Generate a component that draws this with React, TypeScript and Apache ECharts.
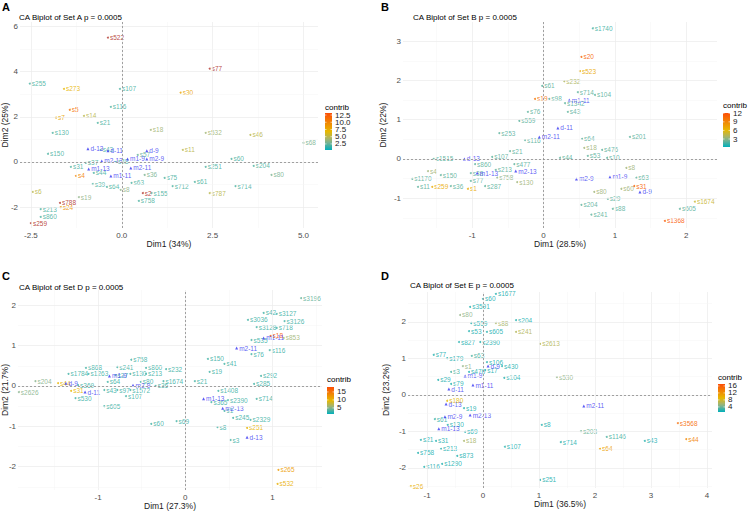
import React, { useEffect, useRef } from "react";
import * as echarts from "echarts";

type Row = [string, number, number, number];
type Col = [string, number, number];

// ---------- Panel A (Set A) ----------
const aRows: Row[] = [
  ["s522", -0.38, 5.51, 14], ["s255", -2.53, 3.47, 2], ["s273", -1.59, 3.24, 7], ["s107", -0.05, 3.24, 2],
  ["s30", 1.62, 3.07, 8], ["s77", 2.42, 4.13, 14], ["s5", -1.43, 2.31, 11], ["s7", -1.81, 1.96, 8],
  ["s14", -1.04, 2.04, 5], ["s116", -0.3, 2.44, 2], ["s21", -0.66, 1.73, 2], ["s130", -1.9, 1.29, 2],
  ["s18", 0.8, 1.42, 4], ["s532", 2.31, 1.29, 4], ["s46", 3.54, 1.2, 5], ["s68", 5.0, 0.84, 3],
  ["s11", 1.68, 0.53, 5], ["s150", -2.03, 0.36, 2], ["s43", -0.58, 0.53, 2], ["s57", 0.44, 0.31, 2.5],
  ["s31", -1.4, -0.22, 2], ["s37", -0.99, -0.04, 2], ["s48", -0.16, 0.0, 2], ["s44", -0.77, -0.49, 2],
  ["s4", -1.26, -0.62, 10], ["s36", 0.63, -0.58, 3], ["s75", 1.18, -0.71, 2], ["s712", 1.4, -1.07, 2],
  ["s39", -0.8, -0.98, 2], ["s64", -0.41, -1.11, 2], ["s63", 0.27, -0.93, 2], ["s8", -0.03, -1.24, 3.5],
  ["s6", -2.45, -1.33, 5], ["s19", -1.18, -1.56, 3.5], ["s2", 0.58, -1.38, 14], ["s155", 0.82, -1.38, 2],
  ["s758", 0.47, -1.73, 2], ["s24", -1.68, -2.0, 9], ["s788", -1.7, -1.82, 14], ["s213", -2.23, -2.09, 2],
  ["s860", -2.23, -2.44, 2], ["s259", -2.5, -2.71, 14], ["s61", 2.01, -0.89, 2], ["s60", 3.02, 0.13, 2],
  ["s251", 2.31, -0.22, 2], ["s204", 3.63, -0.18, 2], ["s80", 4.12, -0.58, 3], ["s714", 3.13, -1.07, 2],
  ["s787", 2.42, -1.38, 5],
];
const aCols: Col[] = [
  ["d-13", -0.93, 0.58], ["d-11", -0.38, 0.49], ["d-9", 0.69, 0.49], ["m2-13", -0.55, 0.04],
  ["m1-9", 0.16, 0.13], ["m2-9", 0.69, 0.13], ["m1-13", -0.91, -0.31], ["m1-11", -0.3, -0.62],
  ["m2-11", 0.25, -0.27],
];
const aTicksX = [-2.5, 0, 2.5, 5];
const aTicksY = [-2, 0, 2, 4, 6];
const aLegendTicks = [2.5, 5, 7.5, 10, 12.5];

// ---------- Panel B (Set B) ----------
const bRows: Row[] = [
  ["s1740", 0.69, 3.33, 1.5], ["s20", 0.53, 2.6, 11], ["s523", 0.51, 2.24, 7], ["s232", 0.29, 1.98, 4],
  ["s61", -0.02, 1.86, 2], ["s714", 0.48, 1.7, 2], ["s104", 0.72, 1.63, 2], ["s19", -0.12, 1.53, 10],
  ["s98", 0.08, 1.53, 2], ["s1342", 0.3, 1.42, 2], ["s43", 0.34, 1.2, 2], ["s76", -0.22, 1.2, 2],
  ["s559", -0.34, 0.97, 2], ["s253", -0.62, 0.66, 2], ["s116", -0.26, 0.48, 2], ["s64", 0.54, 0.51, 2],
  ["s201", 1.21, 0.56, 2], ["s21", -0.47, 0.2, 2], ["s18", 0.57, 0.28, 3.5], ["s476", 0.82, 0.23, 2],
  ["s107", -0.72, 0.05, 2], ["s1515", -1.54, 0.0, 2], ["s44", 0.23, 0.03, 2], ["s53", 0.62, 0.08, 2],
  ["s10", 0.89, 0.03, 2], ["s860", -0.96, -0.13, 2], ["s477", -0.41, -0.13, 2], ["s4", -1.62, -0.31, 3.5],
  ["s150", -1.44, -0.41, 2], ["s38", -1.02, -0.36, 2], ["s213", -0.67, -0.28, 2], ["s1170", -1.84, -0.51, 2],
  ["s758", -0.65, -0.48, 3], ["s130", -0.37, -0.59, 3.5], ["s77", -1.02, -0.56, 2], ["s287", -0.82, -0.69, 2],
  ["s36", -1.3, -0.69, 2], ["s11", -1.76, -0.71, 2], ["s259", -1.56, -0.71, 7], ["s1", -1.06, -0.76, 7],
  ["s8", 1.16, -0.23, 3.5], ["s63", 1.3, -0.48, 2], ["s31", 1.27, -0.69, 11], ["s60", 1.09, -0.76, 3.5],
  ["s80", 0.71, -0.84, 3.5], ["s29", 0.9, -1.02, 2], ["s204", 0.53, -1.17, 2], ["s88", 0.97, -1.27, 2],
  ["s241", 0.67, -1.42, 2], ["s605", 1.91, -1.27, 2], ["s1674", 2.12, -1.09, 5], ["s1368", 1.7, -1.58, 11.5],
];
const bCols: Col[] = [
  ["m1-11", 0.36, 1.5], ["d-11", 0.2, 0.79], ["m2-11", -0.06, 0.56], ["d-13", -1.11, 0.0],
  ["m1-13", -0.93, -0.36], ["m2-13", -0.39, -0.31], ["m2-9", 0.46, -0.51], ["m1-9", 0.93, -0.46],
  ["d-9", 1.35, -0.84],
];
const bTicksX = [-1, 0, 1, 2];
const bTicksY = [-1, 0, 1, 2, 3];
const bLegendTicks = [3, 6, 9, 12];

// ---------- Panel C (Set D) ----------
const cRows: Row[] = [
  ["s3196", 1.33, 2.18, 4], ["s42", 0.9, 1.81, 3], ["s3127", 1.05, 1.79, 3], ["s3036", 0.72, 1.64, 3],
  ["s3126", 1.14, 1.61, 3], ["s3128", 0.82, 1.46, 3], ["s718", 1.05, 1.44, 3], ["s535", 0.76, 1.14, 3],
  ["s18", 0.98, 1.24, 17], ["s853", 1.13, 1.19, 6], ["s76", 0.76, 0.79, 3], ["s116", 0.97, 0.89, 3],
  ["s150", 0.26, 0.67, 3], ["s41", 0.45, 0.55, 3], ["s19", 0.28, 0.35, 3], ["s21", 0.11, 0.12, 3],
  ["s292", 0.87, 0.25, 3], ["s285", 0.79, 0.05, 3], ["s1408", 0.38, -0.12, 3], ["s2390", 0.49, -0.35, 3],
  ["s714", 0.82, -0.32, 3], ["s365", 0.3, -0.4, 3], ["s1", 0.45, -0.62, 3], ["s245", 0.55, -0.79, 3],
  ["s2329", 0.75, -0.84, 3], ["s251", 0.71, -1.04, 10], ["s8", 0.37, -1.02, 3], ["s3", 0.52, -1.34, 3],
  ["s265", 1.07, -2.08, 12], ["s532", 1.06, -2.43, 10.5], ["s60", -0.39, -0.94, 3], ["s69", -0.1, -0.87, 3],
  ["s758", -0.62, 0.65, 3], ["s868", -1.14, 0.45, 3], ["s241", -0.78, 0.47, 3], ["s860", -0.45, 0.45, 3],
  ["s232", -0.22, 0.42, 3], ["s1784", -1.34, 0.3, 3], ["s1263", -1.11, 0.3, 3], ["s37", -0.8, 0.27, 3],
  ["s130", -0.63, 0.3, 3], ["s213", -0.45, 0.3, 3], ["s1674", -0.25, 0.12, 3], ["s204", -1.72, 0.12, 5],
  ["s44", -1.46, 0.07, 10], ["s369", -1.23, 0.02, 3], ["s64", -0.89, 0.1, 3], ["s80", -0.51, 0.1, 3],
  ["s36", -0.34, 0.0, 3], ["s2626", -1.91, -0.15, 5], ["s31", -1.31, -0.12, 10], ["s43", -0.93, -0.1, 3],
  ["s97", -0.78, -0.1, 3], ["s1572", -0.63, -0.1, 3], ["s107", -0.68, -0.25, 3], ["s530", -1.26, -0.3, 3],
  ["s605", -0.93, -0.5, 3],
];
const cCols: Col[] = [
  ["m1-11", 0.9, 1.19], ["m2-11", 0.59, 0.94], ["m1-13", 0.21, -0.32], ["m2-13", 0.43, -0.55],
  ["d-13", 0.71, -1.27], ["m1-9", -0.87, 0.25], ["d-9", -1.37, 0.07], ["m2-9", -0.6, 0.02],
  ["d-11", -1.15, -0.15],
];
const cTicksX = [-1, 0, 1];
const cTicksY = [-2, -1, 0, 1, 2];
const cLegendTicks = [5, 10, 15];

// ---------- Panel D (Set E) ----------
const dRows: Row[] = [
  ["s1677", 0.23, 2.77, 2], ["s60", 0.0, 2.63, 2], ["s3591", -0.23, 2.41, 2], ["s80", -0.41, 2.19, 5],
  ["s559", -0.21, 1.97, 2], ["s88", 0.23, 1.97, 6], ["s204", 0.59, 2.05, 2], ["s53", -0.25, 1.75, 2],
  ["s605", 0.07, 1.73, 2], ["s241", 0.59, 1.73, 6.5], ["s827", -0.43, 1.45, 2], ["s2390", -0.05, 1.45, 2],
  ["s2613", 1.02, 1.4, 6.5], ["s63", -0.2, 1.07, 3], ["s77", -0.88, 1.1, 2], ["s179", -0.64, 1.01, 2],
  ["s1", -0.36, 0.79, 5], ["s106", 0.07, 0.9, 2], ["s430", 0.34, 0.79, 2], ["s17", 0.04, 0.68, 2],
  ["s3", -0.57, 0.63, 3], ["s476", -0.25, 0.63, 2], ["s104", 0.38, 0.47, 2], ["s29", -0.8, 0.41, 2],
  ["s79", -0.57, 0.3, 2], ["s180", -0.64, -0.16, 9], ["s19", -0.34, -0.36, 2], ["s61", -0.86, -0.66, 2.5],
  ["s130", -0.63, -0.82, 2], ["s69", -0.32, -1.01, 2], ["s21", -1.11, -1.23, 2], ["s31", -0.84, -1.26, 2],
  ["s18", -0.34, -1.26, 6], ["s213", -0.75, -1.48, 2], ["s758", -1.16, -1.59, 2], ["s873", -0.46, -1.67, 2],
  ["s107", 0.39, -1.42, 2], ["s116", -1.05, -1.97, 2], ["s1290", -0.73, -1.89, 2], ["s26", -1.29, -2.5, 10],
  ["s251", 1.02, -2.33, 2], ["s8", 1.05, -0.82, 2], ["s530", 1.32, 0.49, 5], ["s203", 1.75, -0.99, 4],
  ["s1146", 2.21, -1.15, 3], ["s714", 1.39, -1.29, 2], ["s43", 2.89, -1.26, 2], ["s64", 2.09, -1.48, 11],
  ["s3568", 3.48, -0.77, 15], ["s44", 3.63, -1.21, 13],
];
const dCols: Col[] = [
  ["d-9", 0.09, 0.79], ["m1-9", -0.32, 0.52], ["m1-11", -0.18, 0.27], ["d-11", -0.61, 0.16],
  ["d-13", -0.66, -0.25], ["m2-9", -0.68, -0.6], ["m2-13", -0.23, -0.55], ["m1-13", -0.79, -0.93],
  ["m2-11", 1.8, -0.3],
];
const dTicksX = [-1, 0, 1, 2, 3, 4];
const dTicksY = [-2, -1, 0, 1, 2];
const dLegendTicks = [4, 8, 12, 16];

// ---------- colours ----------
const STOPS: [number, number[]][] = [
  [0, [0, 175, 187]],
  [0.25, [150, 180, 135]],
  [0.5, [231, 184, 0]],
  [1, [252, 78, 7]],
];
const OVER = "#b2352d";
const COL_COLOR = "#3434f2";

function colorAt(t: number): string {
  const u = Math.max(0, Math.min(1, t));
  for (let i = 1; i < STOPS.length; i++) {
    if (u <= STOPS[i][0]) {
      const [t0, c0] = STOPS[i - 1];
      const [t1, c1] = STOPS[i];
      const f = (u - t0) / (t1 - t0);
      const c = c0.map((v, k) => Math.round(v + (c1[k] - v) * f));
      return `rgb(${c[0]},${c[1]},${c[2]})`;
    }
  }
  const c = STOPS[STOPS.length - 1][1];
  return `rgb(${c[0]},${c[1]},${c[2]})`;
}
function contribColor(c: number, lo: number, hi: number): string {
  if (c > hi) return OVER;
  return colorAt((c - lo) / (hi - lo));
}

interface Panel {
  letter: string; letterPos: [number, number];
  title: string; titlePos: [number, number];
  xName: string; yName: string; yNameGap: number;
  rows: Row[]; cols: Col[];
  ticksX: number[]; ticksY: number[]; xDec: number;
  xMin: number; xMax: number; yMin: number; yMax: number;
  grid: { left: number; top: number; width: number; height: number };
  lo: number; hi: number; legendTicks: number[]; legendDec: number;
  leg: { x: number; top: number; bottom: number; titleY: number };
}

const panels: Panel[] = [
  {
    letter: "A", letterPos: [2, 7], title: "CA Biplot of Set A p = 0.0005", titlePos: [19, 17],
    xName: "Dim1 (34%)", yName: "Dim2 (25%)", yNameGap: 10.5, rows: aRows, cols: aCols,
    ticksX: aTicksX, ticksY: aTicksY, xDec: 1, xMin: -2.8, xMax: 5.4, yMin: -2.93, yMax: 6.2,
    grid: { left: 20, top: 22, width: 298, height: 206 },
    lo: 0.4, hi: 13.2, legendTicks: aLegendTicks, legendDec: 1, leg: { x: 325, top: 113, bottom: 150, titleY: 107 },
  },
  {
    letter: "B", letterPos: [381, 7], title: "CA Biplot of Set B p = 0.0005", titlePos: [413, 17],
    xName: "Dim1 (28.5%)", yName: "Dim2 (22%)", yNameGap: 15.5, rows: bRows, cols: bCols,
    ticksX: bTicksX, ticksY: bTicksY, xDec: 0, xMin: -1.97, xMax: 2.43, yMin: -1.76, yMax: 3.49,
    grid: { left: 403, top: 22, width: 314, height: 206 },
    lo: 0.2, hi: 12.1, legendTicks: bLegendTicks, legendDec: 0, leg: { x: 723, top: 113, bottom: 147, titleY: 105 },
  },
  {
    letter: "C", letterPos: [2, 276], title: "CA Biplot of Set D p = 0.0005", titlePos: [19, 287],
    xName: "Dim1 (27.3%)", yName: "Dim2 (21.7%)", yNameGap: 8.5, rows: cRows, cols: cCols,
    ticksX: cTicksX, ticksY: cTicksY, xDec: 0, xMin: -1.92, xMax: 1.57, yMin: -2.58, yMax: 2.38,
    grid: { left: 18, top: 290, width: 304, height: 200 },
    lo: 1.2, hi: 18.1, legendTicks: cLegendTicks, legendDec: 0, leg: { x: 327, top: 387, bottom: 414, titleY: 379 },
  },
  {
    letter: "D", letterPos: [381, 276], title: "CA Biplot of Set E p = 0.0005", titlePos: [410, 285],
    xName: "Dim1 (36.5%)", yName: "Dim2 (23.2%)", yNameGap: 17.5, rows: dRows, cols: dCols,
    ticksX: dTicksX, ticksY: dTicksY, xDec: 0, xMin: -1.34, xMax: 4.09, yMin: -2.55, yMax: 2.82,
    grid: { left: 408, top: 292, width: 304, height: 196 },
    lo: 1.1, hi: 17.1, legendTicks: dLegendTicks, legendDec: 0, leg: { x: 718, top: 384, bottom: 412, titleY: 377 },
  },
];

function gridValues(ticks: number[], min: number, max: number): number[] {
  const step = ticks[1] - ticks[0];
  const vals: number[] = [];
  vals.push(ticks[0] - step / 2);
  ticks.forEach((t, i) => {
    vals.push(t);
    vals.push(i < ticks.length - 1 ? (t + ticks[i + 1]) / 2 : t + step / 2);
  });
  return vals.filter((v) => v > min && v < max);
}

const FONT = "Liberation Sans, Arial, Helvetica, sans-serif";

function buildOption() {
  const grids: any[] = [];
  const xAxes: any[] = [];
  const yAxes: any[] = [];
  const series: any[] = [];
  const graphics: any[] = [];

  panels.forEach((p, i) => {
    grids.push({ ...p.grid, containLabel: false, outerBoundsMode: "none" });
    xAxes.push({
      gridIndex: i, type: "value", min: p.xMin, max: p.xMax,
      axisLine: { show: false }, axisTick: { show: false }, splitLine: { show: false },
      axisLabel: {
        customValues: p.ticksX, fontSize: 8, color: "#4d4d4d", margin: 3, fontFamily: FONT,
        formatter: (v: number) => v.toFixed(p.xDec),
      },
      name: p.xName, nameLocation: "middle", nameGap: 11, nameMoveOverlap: false,
      nameTextStyle: { fontSize: 8.5, color: "#1a1a1a", fontFamily: FONT },
    });
    yAxes.push({
      gridIndex: i, type: "value", min: p.yMin, max: p.yMax,
      axisLine: { show: false }, axisTick: { show: false }, splitLine: { show: false },
      axisLabel: {
        customValues: p.ticksY, fontSize: 8, color: "#4d4d4d", margin: 2, fontFamily: FONT,
        formatter: (v: number) => v.toFixed(0),
      },
      name: p.yName, nameLocation: "middle", nameGap: p.yNameGap, nameMoveOverlap: false,
      nameTextStyle: { fontSize: 8.5, color: "#1a1a1a", fontFamily: FONT },
    });

    const gx = gridValues(p.ticksX, p.xMin, p.xMax);
    const gy = gridValues(p.ticksY, p.yMin, p.yMax);
    const gridStyle = (major: boolean) => ({ color: major ? "#ebebeb" : "#f4f4f4", width: major ? 0.7 : 0.5, type: "solid" });
    const mlData: any[] = [
      ...gx.map((v) => ({ xAxis: v, lineStyle: gridStyle(p.ticksX.includes(v)) })),
      ...gy.map((v) => ({ yAxis: v, lineStyle: gridStyle(p.ticksY.includes(v)) })),
      { xAxis: 0, lineStyle: { color: "#8c8c8c", width: 0.8, type: [2, 2] } },
      { yAxis: 0, lineStyle: { color: "#8c8c8c", width: 0.8, type: [2, 2] } },
    ];
    series.push({
      type: "line", xAxisIndex: i, yAxisIndex: i, data: [[p.xMin, p.yMin]], symbol: "none",
      lineStyle: { opacity: 0 }, silent: true, z: 1,
      markLine: { silent: true, symbol: ["none", "none"], label: { show: false }, animation: false, data: mlData },
    });

    series.push({
      type: "scatter", xAxisIndex: i, yAxisIndex: i, z: 3, symbolSize: 2, silent: true,
      emphasis: { disabled: true },
      data: p.rows.map(([name, x, y, c]) => {
        const col = contribColor(c, p.lo, p.hi);
        return { name, value: [x, y], itemStyle: { color: col }, label: { color: col } };
      }),
      label: {
        show: true, position: "right", distance: 1, formatter: "{b}", fontSize: 6.5, fontFamily: FONT, opacity: 0.9,
      },
    });
    series.push({
      type: "scatter", xAxisIndex: i, yAxisIndex: i, z: 4, symbol: "triangle", symbolSize: 3, silent: true,
      emphasis: { disabled: true },
      itemStyle: { color: COL_COLOR },
      data: p.cols.map(([name, x, y]) => ({ name, value: [x, y] })),
      label: {
        show: true, position: "right", distance: 1, formatter: "{b}", fontSize: 6.5, fontFamily: FONT, color: COL_COLOR,
      },
    });

    graphics.push({
      type: "text", x: p.letterPos[0], y: p.letterPos[1],
      style: { text: p.letter, fontSize: 11, fontWeight: "bold", fill: "#000", fontFamily: FONT, verticalAlign: "middle" },
    });
    graphics.push({
      type: "text", x: p.titlePos[0], y: p.titlePos[1],
      style: { text: p.title, fontSize: 8, fill: "#000", fontFamily: FONT, verticalAlign: "middle" },
    });

    const L = p.leg;
    const stops = Array.from({ length: 11 }, (_, k) => ({ offset: k / 10, color: colorAt(k / 10) }));
    graphics.push({
      type: "text", x: L.x, y: L.titleY,
      style: { text: "contrib", fontSize: 8, fill: "#000", fontFamily: FONT, verticalAlign: "middle" },
    });
    graphics.push({
      type: "rect", shape: { x: L.x, y: L.top, width: 7, height: L.bottom - L.top },
      style: { fill: new echarts.graphic.LinearGradient(0, 1, 0, 0, stops) },
    });
    p.legendTicks.forEach((v) => {
      const yy = L.bottom - ((v - p.lo) / (p.hi - p.lo)) * (L.bottom - L.top);
      graphics.push({ type: "line", shape: { x1: L.x, y1: yy, x2: L.x + 1.5, y2: yy }, style: { stroke: "#fff", lineWidth: 0.6 } });
      graphics.push({ type: "line", shape: { x1: L.x + 5.5, y1: yy, x2: L.x + 7, y2: yy }, style: { stroke: "#fff", lineWidth: 0.6 } });
      graphics.push({
        type: "text", x: L.x + 10, y: yy,
        style: { text: v.toFixed(p.legendDec), fontSize: 8, fill: "#1a1a1a", fontFamily: FONT, verticalAlign: "middle" },
      });
    });
  });

  return {
    animation: false,
    backgroundColor: "#ffffff",
    textStyle: { fontFamily: FONT },
    grid: grids,
    xAxis: xAxes,
    yAxis: yAxes,
    series,
    graphic: graphics,
  };
}

export default function App() {
  const ref = useRef<HTMLDivElement>(null);
  useEffect(() => {
    document.body.style.margin = "0";
    if (!ref.current) return;
    const chart = echarts.init(ref.current, undefined, { renderer: "svg" });
    chart.setOption(buildOption() as any);
    return () => chart.dispose();
  }, []);
  return <div ref={ref} style={{ width: 748, height: 515 }} />;
}
